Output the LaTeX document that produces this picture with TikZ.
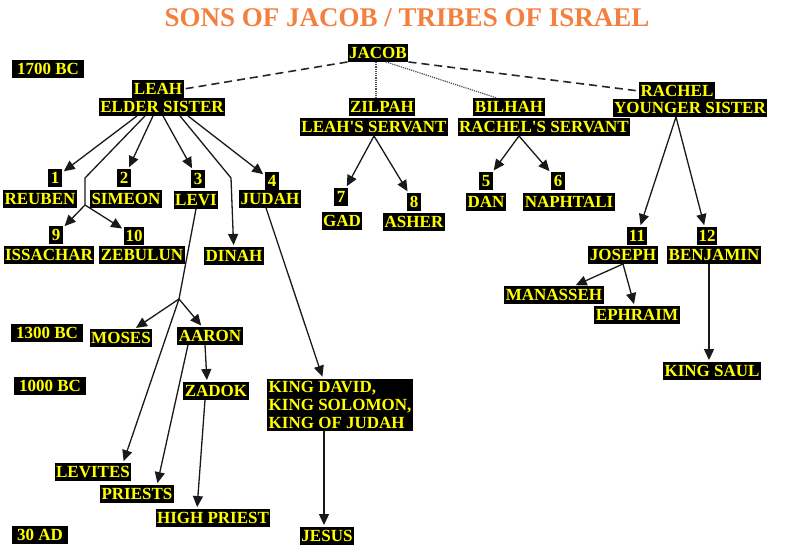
\documentclass[tikz,border=0pt]{standalone}
\usepackage{fontspec}
\setmainfont{Liberation Serif}
\usepackage{tikz}
\usetikzlibrary{arrows.meta}
\usepackage{xcolor}
\definecolor{tagyellow}{RGB}{255,255,0}
\definecolor{titleorange}{RGB}{244,128,64}

\begin{document}
\begin{tikzpicture}[x=1pt,y=-1pt,
  tagbase/.style={fill=black,text=tagyellow,font=\fontsize{17}{18}\selectfont\bfseries,inner xsep=1.5pt,inner ysep=2.5pt},
  tag/.style={tagbase,text height=11.5pt,text depth=1pt,minimum width=14pt},
  era/.style={tag,inner xsep=5pt},
  title/.style={text=titleorange,font=\fontsize{27}{30}\selectfont\bfseries,inner sep=0pt},
  link/.style={draw=black!90,line width=1.3pt},
  conn/.style={link,-{Triangle[length=11pt,width=10pt]},shorten >=2pt},
  dashline/.style={draw=black!85,line width=1.6pt,dash pattern=on 8pt off 5pt},
  dotline/.style={draw=black!70,line width=1.2pt,densely dotted}]
\useasboundingbox (0,0) rectangle (804,551);
\node[title](title) at (407,18){SONS OF JACOB / TRIBES OF ISRAEL};
\node[era](bc1700) at (48,69){1700 BC};
\node[tag](jacob) at (378,53){JACOB};
\node[tag](leah) at (158,89){LEAH};
\node[tag](leahsub) at (162,107){ELDER SISTER};
\node[tag](zilpah) at (382,107){ZILPAH};
\node[tag](zilpahsub) at (374,127){LEAH\textquotesingle S SERVANT};
\node[tag](bilhah) at (509,107){BILHAH};
\node[tag](bilhahsub) at (544,127){RACHEL\textquotesingle S SERVANT};
\node[tag](rachel) at (677,91){RACHEL};
\node[tag](rachelsub) at (690,108){YOUNGER SISTER};
\node[tag](one) at (55,178){1};
\node[tag](reuben) at (40,199){REUBEN};
\node[tag](two) at (124,178){2};
\node[tag](simeon) at (126,199){SIMEON};
\node[tag](three) at (198,179){3};
\node[tag](levi) at (196,200){LEVI};
\node[tag](four) at (272,181){4};
\node[tag](judah) at (270,199){JUDAH};
\node[tag](nine) at (56,235){9};
\node[tag](issachar) at (49,255){ISSACHAR};
\node[tag](ten) at (134,236){10};
\node[tag](zebulun) at (142,255){ZEBULUN};
\node[tag](dinah) at (234,256){DINAH};
\node[tag](seven) at (341,197){7};
\node[tag](gad) at (342,221){GAD};
\node[tag](eight) at (414,202){8};
\node[tag](asher) at (414,222){ASHER};
\node[tag](five) at (486,181){5};
\node[tag](dan) at (486,202){DAN};
\node[tag](six) at (558,181){6};
\node[tag](naphtali) at (569,202){NAPHTALI};
\node[tag](eleven) at (637,236){11};
\node[tag](joseph) at (623,255){JOSEPH};
\node[tag](twelve) at (707,236){12};
\node[tag](benjamin) at (714,255){BENJAMIN};
\node[tag](manasseh) at (554,295){MANASSEH};
\node[tag](ephraim) at (637,315){EPHRAIM};
\node[tag](kingsaul) at (712,371){KING SAUL};
\node[era](bc1300) at (47,333){1300 BC};
\node[tag](moses) at (121,338){MOSES};
\node[tag](aaron) at (210,336){AARON};
\node[era](bc1000) at (50,386){1000 BC};
\node[tag](zadok) at (216,391){ZADOK};
\node[tagbase,align=left](kingdavid) at (340,405){KING DAVID,\\KING SOLOMON,\\KING OF JUDAH};
\node[tag](levites) at (93,472){LEVITES};
\node[tag](priests) at (137,494){PRIESTS};
\node[tag](highpriest) at (213,518){HIGH PRIEST};
\node[era](ad30) at (40,535){30 AD};
\node[tag](jesus) at (327,536){JESUS};
\coordinate(twinfork) at (85,178);
\coordinate(twinsplit) at (85,205);
\coordinate(dinahbend) at (231,178);
\coordinate(levifork) at (179,299);
\draw[dashline](jacob.south west)--(leah.east);
\draw[dashline](jacob.south east)--(rachel.west);
\draw[dotline]([xshift=-2pt]jacob.south)--([xshift=-6pt]zilpah.north);
\draw[dotline]([xshift=8pt]jacob.south)--([xshift=-12pt]bilhah.north);
\draw[conn]([xshift=-25pt]leahsub.south)--(one);
\draw[link]([xshift=-17pt]leahsub.south)--(twinfork)--(twinsplit);
\draw[conn](twinsplit)--(nine);\draw[conn](twinsplit)--(ten);
\draw[conn]([xshift=-9pt]leahsub.south)--(two);
\draw[conn]([xshift=1pt]leahsub.south)--(three);
\draw[conn]([xshift=18pt]leahsub.south)--(dinahbend)--(dinah);
\draw[conn]([xshift=26pt]leahsub.south)--(four);
\draw[conn](zilpahsub.south)--(seven);\draw[conn](zilpahsub.south)--(eight);
\draw[conn]([xshift=-25pt]bilhahsub.south)--(five);\draw[conn]([xshift=-25pt]bilhahsub.south)--(six);
\draw[conn]([xshift=-14pt]rachelsub.south)--(eleven);\draw[conn]([xshift=-14pt]rachelsub.south)--(twelve);
\draw[conn](joseph.south)--(manasseh);\draw[conn](joseph.south)--(ephraim);
\draw[conn]([xshift=-5pt]benjamin.south)--([xshift=-3pt]kingsaul.north);
\draw[link](levi.south)--(levifork);
\draw[conn](levifork)--(moses);\draw[conn](levifork)--(aaron);
\draw[conn](levifork)--([xshift=30pt]levites.north);
\draw[conn]([xshift=-5pt]aaron.south)--([xshift=-9pt]zadok.north);
\draw[conn]([xshift=-22pt]aaron.south)--([xshift=20pt]priests.north);
\draw[conn]([xshift=-11pt]zadok.south)--([xshift=-16pt]highpriest.north);
\draw[conn]([xshift=-4pt]judah.south)--([xshift=-17pt]kingdavid.north);
\draw[conn]([xshift=-16pt]kingdavid.south)--([xshift=-3pt]jesus.north);
\end{tikzpicture}
\end{document}
